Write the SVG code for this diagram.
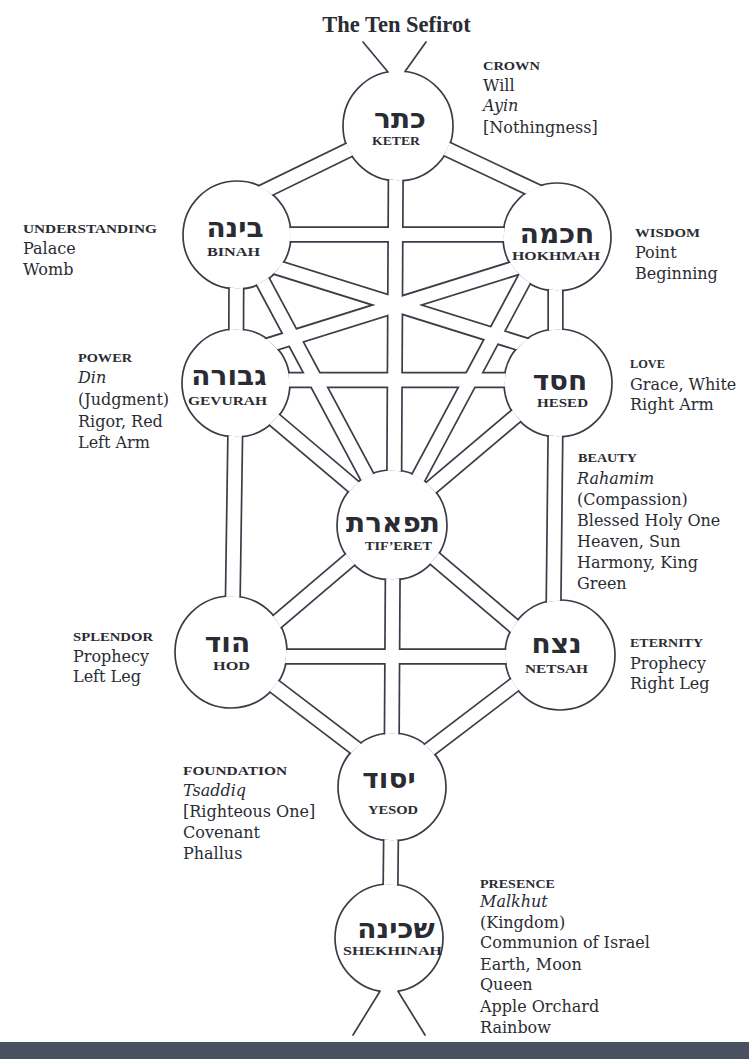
<svg xmlns="http://www.w3.org/2000/svg" xmlns:xlink="http://www.w3.org/1999/xlink" width="749" height="1059" viewBox="0 0 749 1059">
<style>
  .node { fill:#ffffff; stroke:#3a3d48; stroke-width:1.7; }
  .ln { stroke:#3a3d48; stroke-width:1.7; fill:none; stroke-linecap:round; }
  .heb { font-family:"DejaVu Sans", "Liberation Sans", sans-serif; font-weight:bold; font-size:28px; fill:#2a2c34; text-anchor:middle; }
  .lab { font-family:"Liberation Serif", serif; font-weight:bold; font-size:12px; fill:#2a2c34; text-anchor:middle; }
  .cat { font-family:"Liberation Serif", serif; font-weight:bold; font-size:11.5px; fill:#2a2c34; }
  .txt { font-family:"DejaVu Serif", "Liberation Serif", serif; font-size:16px; fill:#2a2c34; }
  .it { font-style:italic; }
  .title { font-family:"Liberation Serif", serif; font-weight:bold; font-size:22.5px; fill:#2a2c34; text-anchor:middle; }
</style>
<defs>
  <mask id="holes" maskUnits="userSpaceOnUse" x="0" y="0" width="749" height="1059">
    <rect x="0" y="0" width="749" height="1059" fill="#fff"/>
    <circle cx="398" cy="126" r="54.15" fill="#000"/>
    <circle cx="237" cy="235" r="53.15" fill="#000"/>
    <circle cx="557" cy="237" r="53.15" fill="#000"/>
    <circle cx="236" cy="383" r="53.15" fill="#000"/>
    <circle cx="558" cy="383" r="53.15" fill="#000"/>
    <circle cx="392" cy="525" r="54.15" fill="#000"/>
    <circle cx="231" cy="652" r="55.15" fill="#000"/>
    <circle cx="560" cy="655" r="54.15" fill="#000"/>
    <circle cx="392" cy="787" r="53.15" fill="#000"/>
    <circle cx="389" cy="938" r="53.15" fill="#000"/>
  </mask>
  <g id="chan">
    <line x1="398" y1="126" x2="240" y2="203"/>
    <line x1="398" y1="126" x2="555" y2="200"/>
    <line x1="396" y1="126" x2="394" y2="525"/>
    <line x1="237" y1="234.5" x2="557" y2="234.5"/>
    <line x1="236.5" y1="235" x2="236" y2="383"/>
    <line x1="555.5" y1="237" x2="555.5" y2="383"/>
    <line x1="237" y1="255" x2="557" y2="355"/>
    <line x1="557" y1="255" x2="237" y2="355"/>
    <line x1="239" y1="237" x2="393" y2="525"/>
    <line x1="547" y1="237" x2="393" y2="525"/>
    <line x1="236" y1="380" x2="558" y2="380"/>
    <line x1="237" y1="388" x2="393" y2="520"/>
    <line x1="549" y1="388" x2="393" y2="520"/>
    <line x1="236" y1="383" x2="232" y2="652"/>
    <line x1="556" y1="383" x2="553" y2="655"/>
    <line x1="393" y1="523" x2="232" y2="660"/>
    <line x1="393" y1="523" x2="554" y2="660"/>
    <line x1="393" y1="525" x2="391.5" y2="787"/>
    <line x1="231" y1="656.5" x2="560" y2="656.5"/>
    <line x1="232" y1="654" x2="391" y2="775"/>
    <line x1="555" y1="654" x2="396" y2="775"/>
    <line x1="391.5" y1="787" x2="390" y2="938"/>
  </g>
</defs>

<rect x="0" y="0" width="749" height="1059" fill="#ffffff"/>
<text class="title" x="396.5" y="32">The Ten Sefirot</text>

<g id="keter">
  <circle class="node" cx="398" cy="126" r="55"/>
  <polygon points="363,42 426,42 405,71.5 404.5,75.5 388.5,75.5 388,72" fill="#ffffff"/>
  <line class="ln" x1="363" y1="42" x2="388" y2="72"/>
  <line class="ln" x1="426" y1="42" x2="405" y2="71.5"/>
  <text class="heb" x="400" y="128">כתר</text>
  <text class="lab" x="396" y="145" textLength="48" lengthAdjust="spacingAndGlyphs">KETER</text>
  <text class="cat" x="483" y="70" textLength="57" lengthAdjust="spacingAndGlyphs">CROWN</text>
  <text class="txt" x="483" y="91">Will</text>
  <text class="txt it" x="483" y="111">Ayin</text>
  <text class="txt" x="483" y="133">[Nothingness]</text>
</g>

<g id="binah">
  <circle class="node" cx="237" cy="235" r="54"/>
  <text class="heb" x="235" y="237">בינה</text>
  <text class="lab" x="233.5" y="256" textLength="53" lengthAdjust="spacingAndGlyphs">BINAH</text>
  <text class="cat" x="23" y="233" textLength="134" lengthAdjust="spacingAndGlyphs">UNDERSTANDING</text>
  <text class="txt" x="23" y="254">Palace</text>
  <text class="txt" x="23" y="275">Womb</text>
</g>

<g id="hokhmah">
  <circle class="node" cx="557" cy="237" r="54"/>
  <text class="heb" x="557" y="243">חכמה</text>
  <text class="lab" x="556" y="260" textLength="88" lengthAdjust="spacingAndGlyphs">HOKHMAH</text>
  <text class="cat" x="635" y="237" textLength="65" lengthAdjust="spacingAndGlyphs">WISDOM</text>
  <text class="txt" x="635" y="258">Point</text>
  <text class="txt" x="635" y="279">Beginning</text>
</g>

<g id="gevurah">
  <circle class="node" cx="236" cy="383" r="54"/>
  <text class="heb" x="229" y="385">גבורה</text>
  <text class="lab" x="227.5" y="405" textLength="79" lengthAdjust="spacingAndGlyphs">GEVURAH</text>
  <text class="cat" x="78" y="362" textLength="54" lengthAdjust="spacingAndGlyphs">POWER</text>
  <text class="txt it" x="78" y="383">Din</text>
  <text class="txt" x="78" y="405">(Judgment)</text>
  <text class="txt" x="78" y="427">Rigor, Red</text>
  <text class="txt" x="78" y="448">Left Arm</text>
</g>

<g id="hesed">
  <circle class="node" cx="558" cy="383" r="54"/>
  <text class="heb" x="560" y="390">חסד</text>
  <text class="lab" x="562.5" y="407" textLength="51" lengthAdjust="spacingAndGlyphs">HESED</text>
  <text class="cat" x="630" y="368" textLength="35" lengthAdjust="spacingAndGlyphs">LOVE</text>
  <text class="txt" x="630" y="390">Grace, White</text>
  <text class="txt" x="630" y="410">Right Arm</text>
</g>

<g id="tiferet">
  <circle class="node" cx="392" cy="525" r="55"/>
  <text class="heb" x="393" y="532">תפארת</text>
  <text class="lab" x="398.5" y="550" textLength="67" lengthAdjust="spacingAndGlyphs">TIF’ERET</text>
  <text class="cat" x="578" y="462" textLength="59" lengthAdjust="spacingAndGlyphs">BEAUTY</text>
  <text class="txt it" x="577" y="484">Rahamim</text>
  <text class="txt" x="577" y="505">(Compassion)</text>
  <text class="txt" x="577" y="526">Blessed Holy One</text>
  <text class="txt" x="577" y="547">Heaven, Sun</text>
  <text class="txt" x="577" y="568">Harmony, King</text>
  <text class="txt" x="577" y="589">Green</text>
</g>

<g id="hod">
  <circle class="node" cx="231" cy="652" r="56"/>
  <text class="heb" x="227.5" y="652">הוד</text>
  <text class="lab" x="231.5" y="670" textLength="37" lengthAdjust="spacingAndGlyphs">HOD</text>
  <text class="cat" x="73" y="641" textLength="80" lengthAdjust="spacingAndGlyphs">SPLENDOR</text>
  <text class="txt" x="73" y="662">Prophecy</text>
  <text class="txt" x="73" y="682">Left Leg</text>
</g>

<g id="netsah">
  <circle class="node" cx="560" cy="655" r="55"/>
  <text class="heb" x="556.5" y="653">נצח</text>
  <text class="lab" x="556.5" y="673" textLength="63" lengthAdjust="spacingAndGlyphs">NETSAH</text>
  <text class="cat" x="630" y="647" textLength="73" lengthAdjust="spacingAndGlyphs">ETERNITY</text>
  <text class="txt" x="630" y="669">Prophecy</text>
  <text class="txt" x="630" y="689">Right Leg</text>
</g>

<g id="yesod">
  <circle class="node" cx="392" cy="787" r="54"/>
  <text class="heb" x="389" y="788">יסוד</text>
  <text class="lab" x="393" y="814" textLength="50" lengthAdjust="spacingAndGlyphs">YESOD</text>
  <text class="cat" x="183" y="775" textLength="104" lengthAdjust="spacingAndGlyphs">FOUNDATION</text>
  <text class="txt it" x="183" y="796">Tsaddiq</text>
  <text class="txt" x="183" y="817">[Righteous One]</text>
  <text class="txt" x="183" y="838">Covenant</text>
  <text class="txt" x="183" y="859">Phallus</text>
</g>

<g id="shekhinah">
  <circle class="node" cx="389" cy="938" r="54"/>
  <polygon points="380,991.2 380.5,986.5 397.5,986.5 398,991.2 425,1035 353,1035" fill="#ffffff"/>
  <line class="ln" x1="380" y1="991.2" x2="353" y2="1035"/>
  <line class="ln" x1="398" y1="991.2" x2="425" y2="1035"/>
  <text class="heb" x="396" y="938">שכינה</text>
  <text class="lab" x="392.5" y="955" textLength="99" lengthAdjust="spacingAndGlyphs">SHEKHINAH</text>
  <text class="cat" x="480" y="888" textLength="75" lengthAdjust="spacingAndGlyphs">PRESENCE</text>
  <text class="txt it" x="480" y="907">Malkhut</text>
  <text class="txt" x="480" y="928">(Kingdom)</text>
  <text class="txt" x="480" y="948">Communion of Israel</text>
  <text class="txt" x="480" y="970">Earth, Moon</text>
  <text class="txt" x="480" y="990">Queen</text>
  <text class="txt" x="480" y="1012">Apple Orchard</text>
  <text class="txt" x="480" y="1033">Rainbow</text>
</g>

<g id="connectors" mask="url(#holes)">
  <use xlink:href="#chan" stroke="#3a3d48" stroke-width="16.4" fill="none"/>
  <use xlink:href="#chan" stroke="#ffffff" stroke-width="13" fill="none"/>
</g>

<rect x="0" y="1042" width="749" height="17" fill="#495060"/>
</svg>
